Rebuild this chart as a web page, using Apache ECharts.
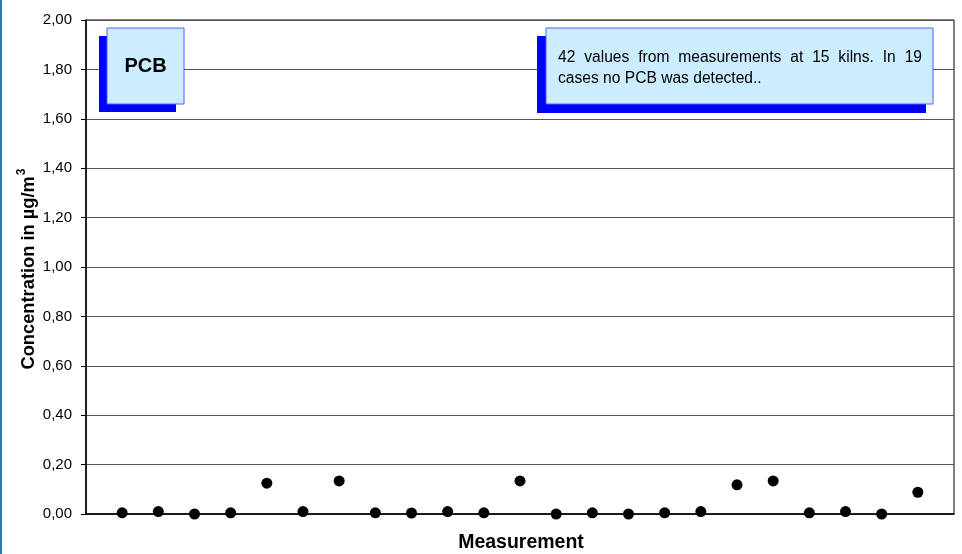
<!DOCTYPE html>
<html>
<head>
<meta charset="utf-8">
<script src="https://cdn.jsdelivr.net/npm/echarts@6/dist/echarts.min.js"></script>
<style>html,body{margin:0;padding:0;background:#fff}#c{width:962px;height:554px}</style>
</head>
<body>
<div id="c"></div>
<script>
// Measurement index (x position) and detected PCB concentration (µg/m³)
const measurementIndex = [1,2,3,4,5,6,7,8,9,10,11,12,13,14,15,16,17,18,19,20,21,22,23];
const pcbValues = [0.005,0.010,0.000,0.005,0.125,0.010,0.134,0.005,0.004,0.010,0.005,0.134,0.000,0.005,0.000,0.005,0.010,0.118,0.134,0.005,0.010,0.000,0.088];
const yTicks = [0,0.2,0.4,0.6,0.8,1.0,1.2,1.4,1.6,1.8,2.0];
const noteLine1 = ['42','values','from','measurements','at','15','kilns.','In','19'];
const noteLine2 = 'cases no PCB was detected..';
const labelText = 'PCB';

const FONT = "'Liberation Sans', Arial, sans-serif";
const NOTE_FONT = "15.6px " + FONT;
const chart = echarts.init(document.getElementById('c'), null, {renderer:'canvas'});

// justified first line
const cv = document.createElement('canvas').getContext('2d');
cv.font = NOTE_FONT;
const lineX0 = 558, lineX1 = 922;
const widths = noteLine1.map(w => cv.measureText(w).width);
const totalW = widths.reduce((a,b)=>a+b,0);
const gap = (lineX1 - lineX0 - totalW) / (noteLine1.length - 1);
const wordEls = [];
let cx = lineX0;
noteLine1.forEach((w,i) => {
  wordEls.push({type:'text', z:102, x:cx, y:58, style:{text:w, font:NOTE_FONT, fill:'#000', textAlign:'left', textVerticalAlign:'middle'}});
  cx += widths[i] + gap;
});

const data = measurementIndex.map((x,i)=>[x, pcbValues[i]]);

chart.setOption({
  animation:false,
  backgroundColor:'#fff',
  grid:{left:86,right:8,top:20,bottom:40,show:true,borderColor:'#000',borderWidth:1,backgroundColor:'transparent'},
  xAxis:{type:'value',min:0,max:24,axisLine:{show:true,lineStyle:{color:'#000',width:1.5}},axisTick:{show:false},axisLabel:{show:false},splitLine:{show:false}},
  yAxis:{type:'value',min:yTicks[0],max:yTicks[yTicks.length-1],interval:0.2,
    axisLine:{show:true,lineStyle:{color:'#000',width:1.5}},
    axisTick:{show:true,length:5,lineStyle:{color:'#000'}},
    axisLabel:{margin:14,color:'#000',fontSize:15,fontFamily:FONT,formatter:v=>v.toFixed(2).replace('.',',')},
    splitLine:{show:true,lineStyle:{color:'#555',width:1}}},
  series:[{type:'scatter',data:data,symbol:'circle',symbolSize:11,itemStyle:{color:'#000',opacity:1},z:5}],
  graphic:[
    {type:'rect',z:0,shape:{x:0,y:0,width:2,height:554},style:{fill:'#1E7CC0'}},
    {type:'rect',z:100,shape:{x:99,y:36,width:77,height:76},style:{fill:'#0000FF'}},
    {type:'rect',z:101,shape:{x:107,y:28,width:77,height:76},style:{fill:'#CCECFF',stroke:'#5B5BFF',lineWidth:1}},
    {type:'text',z:102,x:145.5,y:66,style:{text:labelText,font:"bold 20px "+FONT,fill:'#000',textAlign:'center',textVerticalAlign:'middle'}},
    {type:'rect',z:100,shape:{x:537,y:36,width:389,height:77},style:{fill:'#0000FF'}},
    {type:'rect',z:101,shape:{x:546,y:28,width:387,height:76},style:{fill:'#CCECFF',stroke:'#5B5BFF',lineWidth:1}},
    ...wordEls,
    {type:'text',z:102,x:lineX0,y:79,style:{text:noteLine2,font:NOTE_FONT,fill:'#000',textAlign:'left',textVerticalAlign:'middle'}},
    {type:'text',z:102,x:521,y:543,style:{text:'Measurement',font:"bold 19.5px "+FONT,fill:'#000',textAlign:'center',textVerticalAlign:'middle'}},
    {type:'text',z:102,x:27,y:269,rotation:Math.PI/2,style:{
      text:'{m|Concentration in µg/m}{s|3}',
      textAlign:'center',textVerticalAlign:'middle',
      rich:{m:{font:"bold 18.3px "+FONT,fill:'#000',verticalAlign:'bottom',lineHeight:22},s:{font:"bold 12px "+FONT,fill:'#000',verticalAlign:'top',lineHeight:22,padding:[0,0,8,1]}}
    }}
  ]
});
</script>
</body>
</html>
